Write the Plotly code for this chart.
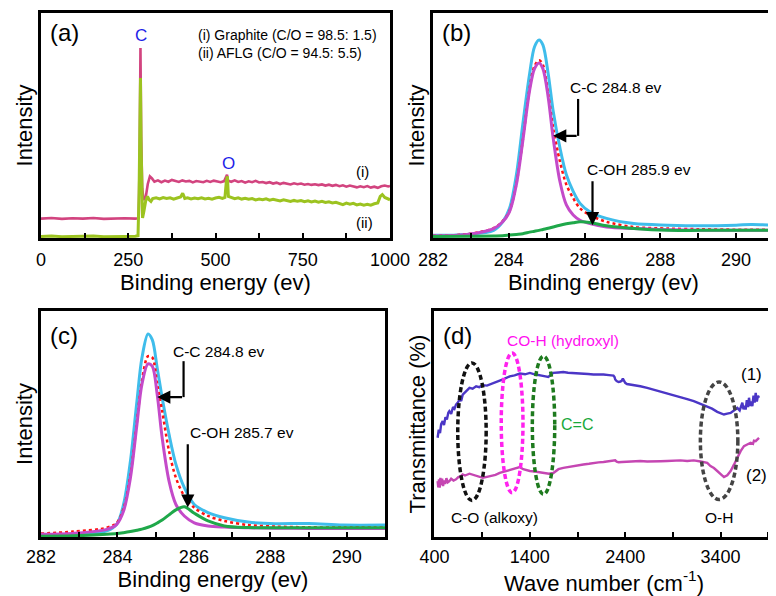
import plotly.graph_objects as go

# ---------------- Panel (a): XPS survey ----------------
a_energy_i = [0, 30, 60, 90, 120, 150, 180, 210, 240, 270, 280, 283, 285, 287, 290, 294, 300, 306, 312, 318,
              325, 335, 345, 355, 365, 375, 385, 395, 405, 415, 425, 435, 445, 455, 465, 475, 485, 495, 505, 515, 525,
              530, 533, 536,
              545, 555, 565, 575, 585, 595, 605, 615, 625, 635, 645, 655, 665, 675, 685, 695, 705, 715, 725, 735,
              745, 755, 765, 775, 785, 795, 805, 815, 825, 835, 845, 855, 865, 875, 885, 895, 905, 915, 925, 935,
              945, 955, 965, 975, 985, 995, 1000]
a_int_i = [8.6, 8.9, 8.5, 8.8, 8.6, 8.9, 8.5, 8.7, 8.8, 8.6, 8.8, 40, 84.4, 45, 22, 17.0, 18, 24, 27.4, 26.5,
           25.0, 25.6, 24.8, 25.5, 25.0, 25.8, 25.2, 24.9, 25.6, 25.1, 25.4, 24.7, 25.3, 25.0, 24.8, 25.4, 24.9, 25.5, 25.1, 24.8, 25.3,
           27.0, 28.1, 25.5,
           25.0, 25.6, 24.9, 25.3, 24.6, 25.2, 24.8, 25.4, 24.7, 24.9, 24.4, 24.8, 24.2, 24.6, 24.0, 24.5, 24.1, 23.8, 24.3, 23.9,
           24.2, 23.7, 24.0, 23.6, 23.9, 23.5, 23.8, 23.3, 23.7, 23.2, 23.6, 23.0, 23.4, 22.8, 23.3, 22.9, 22.5, 23.0, 22.6, 23.1,
           22.4, 22.8, 22.3, 23.0, 23.3, 22.9, 23.1]

a_energy_ii = [0, 30, 60, 90, 120, 150, 180, 210, 240, 270, 278, 281, 283, 285, 287, 289, 291, 295,
               300, 305, 310, 315, 320, 330, 340, 350, 360, 370, 380, 390, 400, 406, 412,
               420, 430, 440, 450, 460, 470, 480, 490, 500, 510, 520, 527, 531, 534, 537,
               545, 555, 565, 575, 585, 595, 605, 615, 625, 635, 645, 655, 665, 675, 685, 695, 705, 715, 725, 735,
               745, 755, 765, 775, 785, 795, 805, 815, 825, 835, 845, 855, 865, 875, 885, 895, 905, 915, 925, 935,
               945, 955, 965, 972, 978, 985, 992, 1000]
a_int_ii = [0.7, 0.9, 0.6, 0.8, 0.7, 0.9, 0.6, 0.8, 0.7, 0.8, 1.0, 20, 50, 71.1, 40, 15, 8.9, 12,
            16.5, 18.5, 17.0, 16.3, 17.5, 17.9, 17.4, 18.0, 17.6, 17.9, 17.3, 17.8, 18.2, 19.9, 17.6,
            17.9, 17.4, 17.8, 17.5, 17.9, 17.4, 17.7, 17.3, 17.8, 18.1, 17.6, 18.0, 25.0, 27.4, 18.5,
            17.9, 17.5, 17.9, 17.3, 17.6, 17.2, 17.5, 16.9, 17.3, 17.0, 17.4, 16.8, 17.2, 16.9, 16.5, 17.0, 16.6, 16.2, 16.7, 16.3,
            16.6, 16.1, 16.5, 16.0, 16.4, 15.9, 16.3, 15.8, 16.1, 15.6, 15.9, 15.3, 14.8, 15.5, 15.0, 15.4, 14.7, 15.1, 14.6, 15.0,
            14.6, 15.2, 15.6, 18.5, 19.3, 18.0, 17.4, 17.0]

# ---------------- Panel (b): C1s Graphite ----------------
b_energy = [282.0, 282.9, 283.6, 283.84, 284.02, 284.2, 284.37, 284.55, 284.68, 284.8, 284.9, 285.04, 285.17,
            285.35, 285.52, 285.7, 285.88, 286.14, 286.58, 287.3, 288.2, 289.06, 290.0, 290.4, 291.0]
b_envelope = [1.2, 1.6, 3.4, 7.2, 13.2, 28.0, 50.6, 73.0, 85.0, 88.0, 85.8, 73.0, 56.6,
              40.1, 28.1, 20.7, 15.4, 11.7, 8.7, 6.4, 5.7, 5.4, 5.7, 6.0, 5.7]
b_fit = [1.0, 1.7, 4.4, 7.5, 12.0, 24.0, 43.5, 66.5, 76.5, 79.0, 77.0, 64.0, 49.0,
         34.0, 23.7, 17.7, 13.2, 10.2, 7.2, 4.9, 4.2, 3.9, 3.7, 3.7, 3.7]
b_cc = [0.9, 1.6, 4.2, 7.2, 11.7, 23.7, 43.1, 65.6, 75.3, 77.8, 75.3, 62.6, 44.6,
        25.1, 14.7, 10.2, 7.9, 6.4, 4.9, 4.2, 3.7, 3.5, 3.4, 3.4, 3.4]
b_coh = [0.7, 0.8, 0.9, 1.0, 1.3, 1.6, 1.9, 2.6, 3.0, 3.4, 3.8, 4.3, 4.9,
         5.7, 6.3, 6.8, 7.2, 6.9, 5.4, 4.2, 3.4, 3.4, 3.4, 3.4, 3.4]

# ---------------- Panel (c): C1s AFLG ----------------
c_energy = [282.0, 282.84, 283.72, 283.98, 284.16, 284.34, 284.51, 284.64, 284.8, 284.91, 285.04, 285.17,
            285.35, 285.53, 285.75, 286.01, 286.37, 286.8, 287.42, 288.13, 289.0, 289.9, 291.0]
c_envelope = [0.9, 1.2, 2.7, 5.6, 14.4, 33.6, 60.1, 79.2, 89.8, 87.3, 74.8, 61.6,
              45.4, 32.1, 21.8, 14.4, 10.8, 8.5, 6.6, 5.9, 6.0, 5.3, 5.3]
c_fit = [1.5, 2.4, 4.1, 6.3, 12.5, 27.5, 51.0, 69.0, 80.0, 79.5, 67.5, 55.7,
         38.0, 26.2, 18.1, 13.0, 9.3, 7.1, 5.3, 4.6, 4.3, 4.2, 4.2]
c_cc = [1.2, 1.6, 3.4, 5.6, 11.5, 26.2, 49.8, 67.5, 76.6, 75.6, 63.0, 43.9,
        24.7, 14.4, 9.3, 6.3, 4.9, 4.4, 4.1, 3.9, 3.8, 3.8, 3.8]
c_coh = [0.3, 0.5, 1.2, 1.5, 1.9, 2.4, 3.0, 3.5, 4.3, 5.0, 6.2, 7.5,
         9.8, 12.0, 13.4, 10.5, 7.1, 4.9, 4.2, 4.1, 4.1, 4.1, 4.1]

# ---------------- Panel (d): FTIR ----------------
d_wave_1 = [433, 445, 458, 470, 486, 500, 515, 530, 545, 556, 575, 595, 610, 626, 645, 665, 680, 696, 720, 745,
            767, 800, 837, 870, 907, 950, 995, 1040, 1084, 1130, 1189, 1240, 1295, 1350, 1400, 1450, 1505, 1550,
            1593, 1620, 1646, 1700, 1751, 1800, 1856, 1910, 1961, 2010, 2067, 2120, 2172, 2230, 2277, 2288, 2295,
            2310, 2330, 2350, 2365, 2375, 2382, 2400, 2418, 2480, 2558, 2630, 2698, 2770, 2839, 2910, 2979, 3050,
            3119, 3190, 3260, 3310, 3365, 3400, 3435, 3470, 3505, 3540, 3575, 3600, 3615, 3628, 3640, 3652, 3663,
            3675, 3688, 3698, 3710, 3722, 3733, 3745, 3757, 3768, 3780, 3792, 3803]
d_trans_1 = [43.9, 47.5, 46.0, 50.0, 51.3, 49.5, 53.0, 52.0, 55.0, 55.7, 54.5, 57.5, 56.8, 58.6, 59.5, 61.0, 60.2, 63.0, 64.0, 65.3,
             66.0, 65.6, 66.7, 66.3, 67.2, 67.0, 67.7, 68.2, 69.2, 70.0, 71.1, 71.5, 72.3, 72.0, 72.6, 72.0, 71.4, 71.2,
             70.8, 71.8, 72.6, 72.8, 73.0, 72.7, 72.6, 72.5, 72.3, 72.1, 71.9, 72.0, 71.9, 71.6, 71.4, 70.8, 69.7,
             69.0, 68.6, 68.8, 69.2, 70.1, 69.5, 68.2, 67.7, 67.3, 66.7, 66.0, 65.2, 64.5, 63.8, 62.9, 61.9, 61.0,
             60.1, 59.0, 57.9, 56.8, 55.4, 54.8, 54.2, 54.6, 54.9, 56.0, 57.1, 56.0, 58.5, 59.4, 56.5, 58.0, 56.4,
             60.5, 57.5, 61.6, 58.0, 60.0, 57.9, 62.5, 59.5, 63.8, 60.0, 62.5, 61.6]

d_wave_2 = [433, 440, 447, 455, 462, 470, 480, 490, 500, 512, 525, 540, 556, 575, 600, 626, 650, 675, 696, 720,
            767, 800, 837, 870, 907, 950, 1000, 1040, 1084, 1130, 1189, 1240, 1295, 1330, 1400, 1450, 1505, 1550,
            1600, 1646, 1700, 1751, 1800, 1856, 1910, 1961, 2020, 2067, 2120, 2172, 2230, 2277, 2295, 2310, 2330,
            2365, 2418, 2480, 2558, 2630, 2698, 2770, 2839, 2910, 2979, 3050, 3119, 3190, 3260, 3294, 3330, 3365,
            3400, 3435, 3470, 3505, 3540, 3575, 3610, 3645, 3680, 3715, 3740, 3750, 3768, 3785, 3803]
d_trans_2 = [24.7, 22.0, 25.5, 21.8, 26.2, 23.0, 25.8, 22.5, 25.0, 23.5, 26.0, 24.2, 24.7, 25.8, 25.0, 25.5, 26.5, 26.8, 27.7, 27.2,
             28.0, 27.5, 27.2, 26.5, 26.2, 26.6, 27.0, 27.5, 28.4, 28.9, 29.5, 30.2, 30.9, 30.0, 29.2, 29.0, 28.7, 28.4,
             28.0, 28.3, 30.0, 30.6, 31.0, 31.4, 31.7, 32.1, 32.4, 32.8, 33.0, 33.2, 33.4, 33.6, 33.9, 33.3, 33.1,
             33.2, 33.3, 33.4, 33.6, 33.4, 33.3, 33.5, 33.6, 33.7, 33.9, 33.6, 33.9, 33.4, 32.8, 31.4, 30.5, 29.2,
             27.8, 26.5, 27.3, 29.2, 32.0, 35.1, 38.0, 40.2, 40.8, 41.7, 41.2, 42.6, 42.4, 43.3, 43.9]

# ---------------- Styling ----------------
FONT = "Arial, Liberation Sans, sans-serif"
PINK = "#D2447F"
LIME = "#9CC320"
CYAN = "#3FBDEB"
MAGENTA = "#C44AC9"
RED = "#FF1010"
GREEN = "#1FA84A"
BLUE = "#4B36C6"
PURPLE = "#C546B2"

fig = go.Figure()

def line(x, y, color, width, xa, ya, dash=None, shape="linear"):
    fig.add_trace(go.Scatter(x=x, y=y, mode="lines", xaxis=xa, yaxis=ya, showlegend=False,
                             line=dict(color=color, width=width, dash=dash, shape=shape, smoothing=0.9)))

line(a_energy_i, a_int_i, PINK, 2.6, "x", "y")
line(a_energy_ii, a_int_ii, LIME, 3, "x", "y")

line(b_energy, b_envelope, CYAN, 3, "x2", "y2", shape="spline")
line(b_energy, b_fit, RED, 2.5, "x2", "y2", dash="dot", shape="spline")
line(b_energy, b_cc, MAGENTA, 3, "x2", "y2", shape="spline")
line(b_energy, b_coh, GREEN, 3, "x2", "y2", shape="spline")

line(c_energy, c_envelope, CYAN, 3, "x3", "y3", shape="spline")
line(c_energy, c_fit, RED, 2.5, "x3", "y3", dash="dot", shape="spline")
line(c_energy, c_cc, MAGENTA, 3, "x3", "y3", shape="spline")
line(c_energy, c_coh, GREEN, 3, "x3", "y3", shape="spline")

line(d_wave_1, d_trans_1, BLUE, 2.4, "x4", "y4")
line(d_wave_2, d_trans_2, PURPLE, 2.4, "x4", "y4")

W, H = 776, 596
def px_dom(a, b, total, flip=False):
    if flip:
        return [1 - b / total, 1 - a / total]
    return [a / total, b / total]

def xaxis(dom, anchor, rng, tick0, dtick, mdtick, title, lblpad=4):
    return dict(domain=dom, anchor=anchor, range=rng, tick0=tick0, dtick=dtick,
                ticks="inside", ticklen=5, tickwidth=2, tickcolor="black",
                showline=True, linecolor="black", linewidth=2.5, mirror=True,
                showgrid=False, zeroline=False, automargin=False,
                tickfont=dict(family=FONT, size=18, color="black"), ticklabelstandoff=lblpad,
                minor=dict(tick0=tick0, dtick=mdtick, ticks="inside", ticklen=5, tickwidth=2,
                           tickcolor="black", showgrid=False),
                title=dict(text=title, font=dict(family=FONT, size=22, color="black"), standoff=0))

def yaxis(dom, anchor, title):
    return dict(domain=dom, anchor=anchor, range=[0, 100], showticklabels=False, ticks="",
                showline=True, linecolor="black", linewidth=2.5, mirror=True,
                showgrid=False, zeroline=False, automargin=False,
                title=dict(text=title, font=dict(family=FONT, size=22, color="black"), standoff=0))

top = px_dom(5, 230, H, flip=True)
bot = px_dom(303, 529, H, flip=True)

fig.update_layout(
    width=W, height=H, margin=dict(l=0, r=0, t=0, b=0),
    paper_bgcolor="white", plot_bgcolor="white", template="none",
    font=dict(family=FONT, color="black"),
    xaxis=xaxis(px_dom(33, 382, W), "y", [0, 1000], 0, 250, 125, "Binding energy (ev)"),
    yaxis=yaxis(top, "x", "Intensity"),
    xaxis2=xaxis(px_dom(425, 766, W), "y2", [282, 291], 282, 2, 1, "Binding energy (ev)"),
    yaxis2=yaxis(top, "x2", "Intensity"),
    xaxis3=xaxis(px_dom(33, 377, W), "y3", [282, 291], 282, 2, 1, "Binding energy (ev)", lblpad=2),
    yaxis3=yaxis(bot, "x3", "Intensity"),
    xaxis4=xaxis(px_dom(426, 766, W), "y4", [395, 3960], 400, 1000, 500, "Wave number (cm<sup>-1</sup>)", lblpad=2),
    yaxis4=yaxis(bot, "x4", "Transmittance (%)"),
)

ann = []
def text(x, y, s, xr, yr, size=15.5, color="black", xanchor="center"):
    ann.append(dict(x=x, y=y, xref=xr, yref=yr, text=s, showarrow=False, xanchor=xanchor, yanchor="middle",
                    font=dict(family=FONT, size=size, color=color)))

def arrow(x, y, ax, ay, xr, yr):
    ann.append(dict(x=x, y=y, ax=ax, ay=ay, xref=xr, yref=yr, axref=xr, ayref=yr, text="",
                    font=dict(family=FONT, size=12, color="black"),
                    showarrow=True, arrowhead=2, arrowsize=1.2, arrowwidth=2.2, arrowcolor="black", standoff=0))

# panel letters
for lbl, xp, yp in [("(a)", 40, 25), ("(b)", 432, 25), ("(c)", 40, 327), ("(d)", 433, 327)]:
    ann.append(dict(x=xp / W, y=1 - yp / H, xref="paper", yref="paper", text=lbl, showarrow=False,
                    xanchor="left", yanchor="middle", font=dict(family=FONT, size=24, color="black")))

# (a)
text(287, 89.8, "C", "x", "y", size=17, color="#1E1EE8")
text(536, 33.3, "O", "x", "y", size=17, color="#1E1EE8")
text(445, 90.4, "(i) Graphite (C/O = 98.5: 1.5)", "x", "y", size=14, xanchor="left")
text(445, 82.2, "(ii) AFLG (C/O = 94.5: 5.5)", "x", "y", size=14, xanchor="left")
text(922, 29.6, "(i)", "x", "y", size=15)
text(926, 6.7, "(ii)", "x", "y", size=15)

# (b)
text(285.57, 67, "C-C 284.8 ev", "x2", "y2", xanchor="left")
arrow(285.17, 45.4, 285.83, 45.4, "x2", "y2")
text(286.0, 30.4, "C-OH 285.9 ev", "x2", "y2", xanchor="left")
arrow(286.21, 5.7, 286.21, 25.9, "x2", "y2")

# (c)
text(285.4, 82.2, "C-C 284.8 ev", "x3", "y3", xanchor="left")
arrow(285.04, 61.9, 285.73, 61.9, "x3", "y3")
text(285.84, 46.1, "C-OH 285.7 ev", "x3", "y3", xanchor="left")
arrow(285.84, 13.0, 285.84, 41.7, "x3", "y3")

# (d)
text(1749, 87.0, "CO-H (hydroxyl)", "x4", "y4", color="#FF10F0")
text(1890, 49.8, "C=C", "x4", "y4", color="#18A83A", size=16)
text(1030, 8.5, "C-O (alkoxy)", "x4", "y4")
text(3380, 8.5, "O-H", "x4", "y4")
text(3721, 71.9, "(1)", "x4", "y4", size=17)
text(3774, 27.0, "(2)", "x4", "y4", size=17)

fig.update_layout(annotations=ann)

shapes = [
    dict(type="line", xref="x2", yref="y2", x0=285.83, y0=61.8, x1=285.83, y1=45.4,
         line=dict(color="black", width=2.2)),
    dict(type="line", xref="x3", yref="y3", x0=285.73, y0=77.8, x1=285.73, y1=61.9,
         line=dict(color="black", width=2.2)),
]
for x0, x1, y0, y1, col in [(644, 942, 16.2, 77.0, "#111111"), (1100, 1328, 19.6, 81.4, "#FF22EE"),
                            (1426, 1661, 18.9, 80.0, "#1E7A1E"), (3188, 3581, 16.6, 68.6, "#444444")]:
    shapes.append(dict(type="circle", xref="x4", yref="y4", x0=x0, x1=x1, y0=y0, y1=y1,
                       line=dict(color=col, width=3.5, dash="5px,3px")))
fig.update_layout(shapes=shapes)

fig.write_html("out.html")
